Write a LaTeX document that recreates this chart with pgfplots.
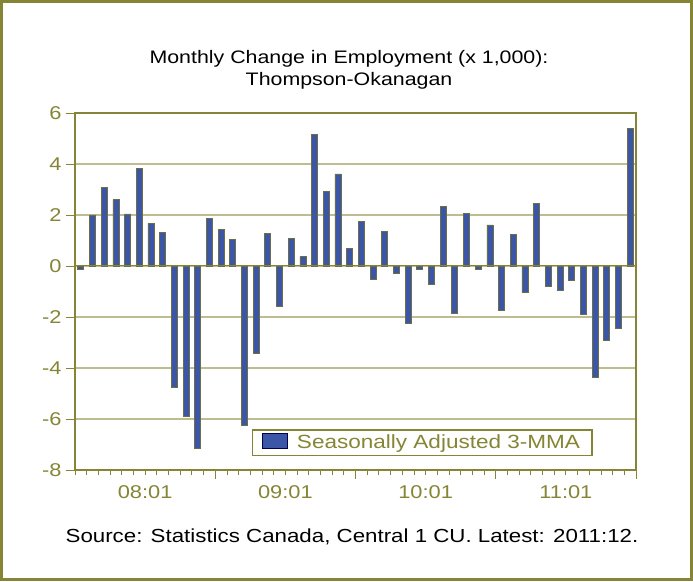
\documentclass[border=0pt]{standalone}
\usepackage{pgfplots}
\pgfplotsset{compat=1.18}
\usepackage{fontspec}
\setmainfont{Liberation Sans}[FakeStretch=1.18]
\definecolor{olive}{HTML}{858535}
\definecolor{gridcol}{HTML}{BDBD90}
\definecolor{barblue}{HTML}{3B56A6}
\definecolor{baredge}{HTML}{6E6E45}
\begin{document}
\begin{tikzpicture}[x=1pt,y=1pt]
\useasboundingbox (0,0) rectangle (693,581);
\draw[olive, line width=3pt] (1.5,1.5) rectangle (691.5,579.5);
\node[font=\fontsize{18.1}{22}\selectfont, align=center, anchor=center] at (349,511) {Monthly Change in Employment (x 1,000):\\Thompson-Okanagan};
\node[font=\fontsize{18.9}{22}\selectfont, anchor=center] at (352,44) {Source: Statistics Canada, Central 1 CU. Latest: 2011:12.};
\begin{axis}[
  at={(75pt,111pt)}, anchor=south west,
  scale only axis, width=561pt, height=357pt,
  xmin=0.5, xmax=48.5, ymin=-8, ymax=6,
  ytick={-8,-6,...,6},
  xtick={12.5,24.5,36.5,48.5},
  xticklabels={},
  minor xtick={0.5,1.5,...,48.5},
  extra x ticks={6.5,18.5,30.5,42.5},
  extra x tick labels={08:01,09:01,10:01,11:01},
  extra x tick style={major tick length=0pt, xmajorgrids=false},
  ymajorgrids, grid style={gridcol, line width=1.2pt},
  axis line style={olive, line width=2pt},
  tick style={olive, line width=0.8pt},
  major tick length=9pt, minor tick length=5pt,
  tick align=outside,
  xtick pos=bottom, ytick pos=left,
  tick label style={font=\fontsize{18.5}{20}\selectfont, text=olive},
  /pgf/number format/assume math mode=true,
  xticklabel style={yshift=-12pt},
  yticklabel style={xshift=-1pt},
  ybar, bar width=6pt,
  legend style={at={(0.315,0.039)}, anchor=south west, draw=olive, line width=1.5pt, font=\fontsize{19.1}{21}\selectfont, text=olive, inner xsep=10pt, inner ysep=3pt},
  legend image code/.code={\draw[fill=barblue, draw=black!70!blue, line width=1pt] (0pt,-6pt) rectangle (25pt,9pt); \path[draw=none, fill=none] (0pt,0pt) -- (32pt,0pt);},
  clip=false,
]
\addplot[fill=barblue, draw=baredge, line width=0.8pt] coordinates {
(1,-0.15) (2,2.0) (3,3.08) (4,2.6) (5,2.04) (6,3.83) (7,1.67) (8,1.31)
(9,-4.78) (10,-5.88) (11,-7.14) (12,1.88) (13,1.42) (14,1.03) (15,-6.27) (16,-3.41)
(17,1.28) (18,-1.57) (19,1.07) (20,0.37) (21,5.15) (22,2.93) (23,3.61) (24,0.69)
(25,1.74) (26,-0.51) (27,1.36) (28,-0.31) (29,-2.27) (30,-0.13) (31,-0.71) (32,2.34)
(33,-1.84) (34,2.05) (35,-0.12) (36,1.61) (37,-1.73) (38,1.24) (39,-1.03) (40,2.44)
(41,-0.81) (42,-0.95) (43,-0.55) (44,-1.90) (45,-4.37) (46,-2.93) (47,-2.46) (48,5.40)
};
\addlegendentry{Seasonally Adjusted 3-MMA}
\draw[olive, line width=1pt] (axis cs:0.5,0) -- (axis cs:48.5,0);
\end{axis}
\end{tikzpicture}
\end{document}
